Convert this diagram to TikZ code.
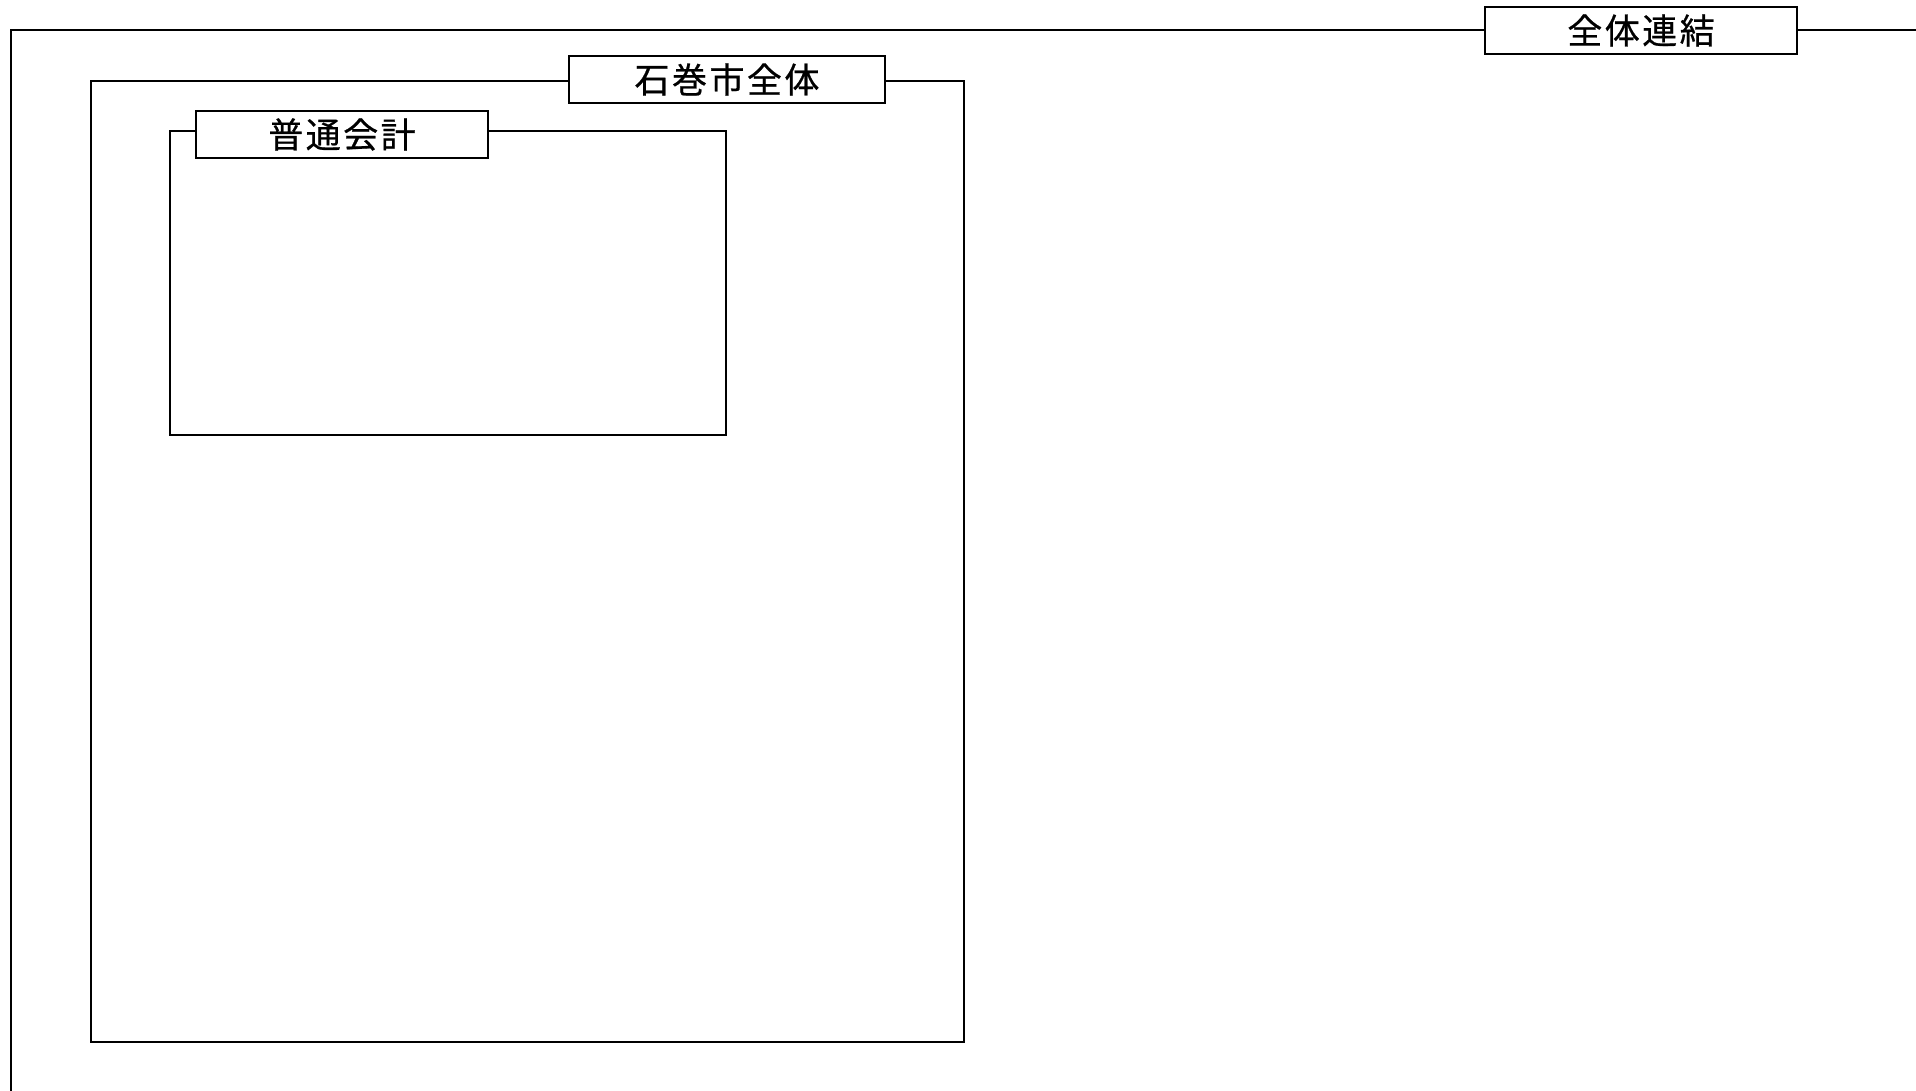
\documentclass[tikz,border=0pt]{standalone}
\usepackage{fontspec}
\newfontfamily\jpfont{Noto Sans CJK JP}[LetterSpace=7,FakeBold=0.6]
\begin{document}
\begin{tikzpicture}[x=1pt,y=-1pt,
  framebox/.style={line width=1.6pt},
  tagbox/.style={draw, line width=1.3pt, fill=white, inner sep=0pt,
    minimum height=47pt, anchor=center,
    font=\jpfont\fontsize{35}{40}\selectfont}]
\useasboundingbox (0,0) rectangle (1916,1090);
\clip (0,0) rectangle (1916,1090);
\fill[white] (0,0) rectangle (1916,1090);
% frames
\draw[framebox] (11,30) rectangle (1940,1120);
\draw[framebox] (91,81) rectangle (964,1042);
\draw[framebox] (170,131) rectangle (726,435);
% labels
\node[tagbox, minimum width=312pt] (all) at (1641,30.5) {\raisebox{1pt}{全体連結}};
\node[tagbox, minimum width=316pt] (city) at (727,79.5) {\raisebox{1pt}{石巻市全体}};
\node[tagbox, minimum width=292pt] (gen) at (342,134.5) {\raisebox{1pt}{普通会計}};
\end{tikzpicture}
\end{document}
